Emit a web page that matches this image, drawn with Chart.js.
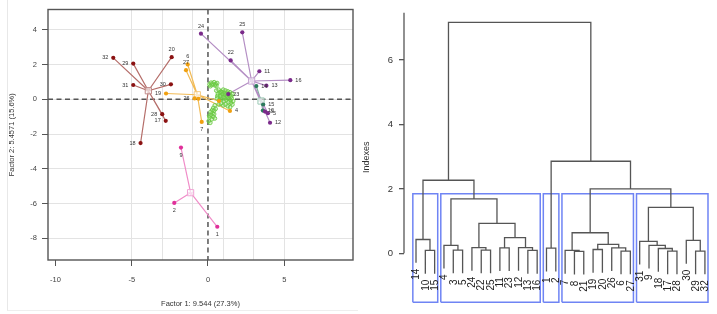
<!DOCTYPE html>
<html><head><meta charset="utf-8">
<script src="https://cdn.jsdelivr.net/npm/chart.js@4.4.1/dist/chart.umd.min.js"></script>
<style>
html,body{margin:0;padding:0;background:#fff;}
#wrap{position:relative;width:717px;height:314px;overflow:hidden;background:#fff;}
#frame{position:absolute;left:7px;top:0;width:350px;height:310px;border-left:1px solid #e8e8e8;border-bottom:1px solid #eeeeee;}
#c1{position:absolute;left:0;top:0;}
#c2{position:absolute;left:360px;top:0;}
</style></head><body>
<div id="wrap"><div id="frame"></div>
<canvas id="c1" width="360" height="314"></canvas>
<canvas id="c2" width="357" height="314"></canvas>
</div>
<script>
// ---------------- factor map data ----------------
const xTicks = [-10, -5, 0, 5];
const yTicks = [-8, -6, -4, -2, 0, 2, 4];
const xGridValues = [-5, -3, -1, 1, 3, 5];

const brownIds = ['32','29','20','31','30','28','17','18'];
const brownX = [-6.21, -4.90, -2.38, -4.90, -2.43, -3.00, -2.77, -4.42];
const brownY = [2.38, 2.05, 2.42, 0.82, 0.86, -0.86, -1.24, -2.52];
const brownCenter = [-3.91, 0.49];

const orangeIds = ['6','27','19','26','8','7','4','21'];
const orangeX = [-1.33, -1.44, -2.75, -0.88, -0.62, -0.41, 1.44, 0.72];
const orangeY = [2.00, 1.67, 0.33, 0.05, 0.03, -1.30, -0.67, -0.10];
const orangeCenter = [-0.70, 0.26];

const purpleIds = ['24','25','22','11','16','13','23','3','5','12'];
const purpleX = [-0.46, 2.25, 1.49, 3.37, 5.40, 3.83, 1.33, 3.74, 3.93, 4.07];
const purpleY = [3.77, 3.85, 2.23, 1.61, 1.10, 0.78, 0.30, -0.71, -0.80, -1.35];
const purpleCenter = [2.86, 1.05];

const tealIds = ['14','15','10'];
const tealX = [3.17, 3.62, 3.60];
const tealY = [0.76, -0.30, -0.65];
const tealCenter = [3.48, -0.10];

const pinkIds = ['9','2','1'];
const pinkX = [-1.77, -2.21, 0.61];
const pinkY = [-2.78, -5.96, -7.33];
const pinkCenter = [-1.14, -5.37];

const greenX = [0.10,0.20,0.30,0.40,0.50,0.60,0.15,0.45,0.25,0.55,
  0.55,0.70,0.85,1.00,1.15,1.30,1.45,1.60,0.65,0.80,0.95,1.10,1.25,1.40,1.55,0.60,0.75,0.90,1.05,1.20,1.35,1.50,1.65,0.85,1.00,1.15,1.30,1.45,0.70,
  0.78,0.92,1.08,1.22,1.38,1.52,0.88,1.02,1.18,1.32,1.48,0.62,1.60,
  0.45,0.35,0.40,0.30,0.20,0.35,0.10,0.25,0.05,0.15,0.40,0.50,0.28,0.18,0.45,0.08];
const greenY = [0.85,0.95,0.90,0.98,0.88,0.93,0.75,0.80,0.82,0.78,
  0.50,0.55,0.45,0.55,0.50,0.45,0.40,0.30,0.30,0.20,0.30,0.25,0.15,0.20,0.05,0.05,-0.05,0.00,-0.10,-0.05,-0.15,-0.20,-0.10,-0.25,-0.35,-0.30,-0.40,-0.45,-0.30,
  0.38,0.40,0.35,0.32,0.30,0.18,0.10,0.12,0.08,0.05,-0.05,0.18,-0.30,
  -0.35,-0.50,-0.65,-0.80,-0.90,-1.00,-1.05,-1.15,-1.25,-1.35,-0.85,-0.55,-0.62,-0.72,-1.10,-0.95];

// label placement codes (l/r/t/b/n)
const brownSides = ['l','l','t','l','l','l','l','l'];
const orangeSides = ['t','t','l','l','n','b','r','n'];
const purpleSides = ['t','t','t','r','r','r','r','r','r','r'];
const tealSides = ['r','r','r'];
const pinkSides = ['b','b','b'];

// ---------------- dendrogram data ----------------
const leafOrder = [14,10,15,4,3,5,24,22,25,11,23,12,13,16,1,2,7,8,21,19,20,26,6,27,31,9,18,17,28,30,29,32];
const mergeA = [-10,-14,-3,-4,-22,-24,-11,-13,-12,7,6,4,2,-1,-8,-7,-19,-6,-26,17,16,-17,-18,-9,-31,-29,-30,25,21,14,13];
const mergeB = [-15,1,-5,3,-25,5,-23,-16,8,9,10,11,12,-2,-21,15,-20,-27,18,19,20,-28,22,23,24,-32,26,27,28,29,30];
const mergeH = [0.09,0.43,0.10,0.25,0.10,0.18,0.17,0.09,0.18,0.49,0.93,1.69,2.27,0.16,0.06,0.09,0.12,0.07,0.17,0.28,0.64,0.07,0.15,0.25,0.37,0.07,0.40,1.43,2.00,2.86,7.17];
const clusterSizes = [3, 11, 2, 8, 8];
const cutHeight = 1.85;
const dendroTicks = [0, 2, 4, 6];

const FONT = "'Liberation Sans', Arial, Helvetica, sans-serif";

// ---------------- factor map chart ----------------
function clusterSets(name, ids, xs, ys, sides, center, pointColor, lineColor, boxColor) {
  const star = [];
  xs.forEach((x, i) => { star.push({x: center[0], y: center[1]}, {x: x, y: ys[i]}, {x: x, y: null}); });
  return [
    {label: name + ' links', data: star, showLine: true, spanGaps: false, borderColor: lineColor, borderWidth: 1.2, pointRadius: 0, order: 5},
    {label: name, data: xs.map((x, i) => ({x: x, y: ys[i]})), backgroundColor: pointColor, borderColor: pointColor, pointRadius: 2.1, borderWidth: 0, order: 1, pointIds: ids, pointSides: sides},
    {label: name + ' centre', data: [{x: center[0], y: center[1]}], pointStyle: 'rect', pointRadius: 4.4, backgroundColor: 'rgba(255,255,255,0.6)', borderColor: boxColor, borderWidth: 1, order: 2},
    {label: name + ' centre+', data: [{x: center[0], y: center[1]}], pointStyle: 'cross', pointRadius: 3, borderColor: boxColor, borderWidth: 1, order: 2}
  ];
}

const datasets1 = [
  {label: 'cloud', data: greenX.map((x, i) => ({x: x, y: greenY[i]})), pointStyle: 'circle', pointRadius: 1.9, backgroundColor: 'rgba(120,210,80,0.25)', borderColor: '#6ccb45', borderWidth: 0.9, order: 3},
  ...clusterSets('brown', brownIds, brownX, brownY, brownSides, brownCenter, '#8b1212', '#b56e6a', '#c08a88'),
  ...clusterSets('orange', orangeIds, orangeX, orangeY, orangeSides, orangeCenter, '#f0a010', '#f2bb55', '#f3c980'),
  ...clusterSets('purple', purpleIds, purpleX, purpleY, purpleSides, purpleCenter, '#7a2a8a', '#b48ec4', '#c6a6d2'),
  ...clusterSets('teal', tealIds, tealX, tealY, tealSides, tealCenter, '#2b7a5c', '#7fb59e', '#9cc9b5'),
  ...clusterSets('pink', pinkIds, pinkX, pinkY, pinkSides, pinkCenter, '#e0309a', '#f08cc8', '#f0a6d6')
];

const mapPlugin = {
  id: 'mapExtras',
  beforeDatasetsDraw(chart) {
    const {ctx, chartArea: a, scales: {x, y}} = chart;
    ctx.save();
    ctx.strokeStyle = '#555';
    ctx.lineWidth = 1.5;
    ctx.setLineDash([5, 3.5]);
    const x0 = x.getPixelForValue(0), y0 = y.getPixelForValue(0);
    ctx.beginPath();
    ctx.moveTo(x0, a.top); ctx.lineTo(x0, a.bottom);
    ctx.moveTo(a.left, y0); ctx.lineTo(a.right, y0);
    ctx.stroke();
    ctx.restore();
  },
  afterDatasetsDraw(chart) {
    const {ctx, chartArea: a} = chart;
    ctx.save();
    ctx.font = '5.5px ' + FONT;
    ctx.fillStyle = '#333';
    chart.data.datasets.forEach((ds, i) => {
      if (!ds.pointIds) return;
      const meta = chart.getDatasetMeta(i);
      meta.data.forEach((el, j) => {
        const s = ds.pointSides[j];
        const t = ds.pointIds[j];
        if (s === 'n') return;
        ctx.textBaseline = 'middle';
        if (s === 'l') { ctx.textAlign = 'right'; ctx.fillText(t, el.x - 5, el.y); }
        else if (s === 'r') { ctx.textAlign = 'left'; ctx.fillText(t, el.x + 5, el.y); }
        else if (s === 't') { ctx.textAlign = 'center'; ctx.fillText(t, el.x, el.y - 7.5); }
        else { ctx.textAlign = 'center'; ctx.fillText(t, el.x, el.y + 7.5); }
      });
    });
    ctx.strokeStyle = '#555';
    ctx.lineWidth = 1.4;
    ctx.setLineDash([]);
    ctx.strokeRect(a.left, a.top, a.right - a.left, a.bottom - a.top);
    ctx.restore();
  }
};

new Chart(document.getElementById('c1'), {
  type: 'scatter',
  data: {datasets: datasets1},
  options: {
    responsive: false, animation: false,
    layout: {padding: {top: 8, right: 7, left: 0, bottom: 0}},
    plugins: {legend: {display: false}, tooltip: {enabled: false}},
    scales: {
      x: {
        type: 'linear', position: 'bottom', min: -10.49, max: 9.51,
        afterBuildTicks: s => { s.ticks = xTicks.map(v => ({value: v})); },
        afterFit: s => { s.height = 54; },
        grid: {drawOnChartArea: false, tickColor: '#555', tickLength: 6, lineWidth: 1},
        border: {display: false},
        ticks: {font: {family: FONT, size: 7.5}, color: '#444', padding: 9, maxRotation: 0},
        title: {display: true, text: 'Factor 1: 9.544 (27.3%)', font: {family: FONT, size: 7.5}, color: '#333', padding: {top: 0, bottom: 5.5}}
      },
      x2: {
        type: 'linear', position: 'top', min: -10.49, max: 9.51,
        afterBuildTicks: s => { s.ticks = xGridValues.map(v => ({value: v})); },
        afterFit: s => { s.height = 0; },
        grid: {color: '#e3e3e3', lineWidth: 1, drawTicks: false},
        border: {display: false},
        ticks: {display: false}
      },
      y: {
        type: 'linear', position: 'left', min: -9.24, max: 5.16,
        afterBuildTicks: s => { s.ticks = yTicks.map(v => ({value: v})); },
        afterFit: s => { s.width = 48; },
        grid: {color: '#e3e3e3', lineWidth: 1, tickColor: '#555', tickLength: 6},
        border: {display: false},
        ticks: {font: {family: FONT, size: 7.5}, color: '#444', padding: 5},
        title: {display: true, text: 'Factor 2: 5.4571 (15.6%)', font: {family: FONT, size: 7.5}, color: '#333', padding: {top: 7.5, bottom: 0}}
      }
    }
  },
  plugins: [mapPlugin]
});

// ---------------- dendrogram chart ----------------
const HANG = 0.72;
const leafPos = {};
leafOrder.forEach((lab, i) => { leafPos[lab] = i + 1; });
const nodeX = [];
const parentH = {};
mergeA.forEach((a, k) => {
  [a, mergeB[k]].forEach(c => { if (c < 0) parentH[-c] = mergeH[k]; });
});
function xOf(c) { return c < 0 ? leafPos[-c] : nodeX[c - 1]; }
function topOf(c, h) { return c < 0 ? h - HANG : mergeH[c - 1]; }
const dendroData = [];
mergeA.forEach((a, k) => {
  const b = mergeB[k], h = mergeH[k];
  const xa = xOf(a), xb = xOf(b);
  nodeX[k] = (xa + xb) / 2;
  dendroData.push({x: xa, y: topOf(a, h)}, {x: xa, y: h}, {x: xb, y: h}, {x: xb, y: topOf(b, h)}, {x: xb, y: null});
});
const Y2MIN = -1.52, Y2MAX = 7.495;
const boxData = [];
let start = 1;
clusterSizes.forEach(n => {
  const l = start - 0.34, r = start + n - 1 + 0.33;
  boxData.push({x: l, y: Y2MIN}, {x: l, y: cutHeight}, {x: r, y: cutHeight}, {x: r, y: Y2MIN}, {x: l, y: Y2MIN}, {x: l, y: null});
  start += n;
});

const dendroPlugin = {
  id: 'dendroExtras',
  afterDatasetsDraw(chart) {
    const {ctx, chartArea: a, scales: {x, y}} = chart;
    ctx.save();
    ctx.strokeStyle = '#555';
    ctx.lineWidth = 1.3;
    ctx.beginPath();
    ctx.moveTo(a.left, y.getPixelForValue(0));
    ctx.lineTo(a.left, a.top + 0.7);
    ctx.stroke();
    ctx.font = '10px ' + FONT;
    ctx.fillStyle = '#222';
    ctx.textAlign = 'right';
    ctx.textBaseline = 'middle';
    leafOrder.forEach((lab, i) => {
      const px = x.getPixelForValue(i + 1);
      const py = y.getPixelForValue(parentH[lab] - HANG) + 6;
      ctx.save();
      ctx.translate(px, py);
      ctx.rotate(-Math.PI / 2);
      ctx.fillText(String(lab), 0, 0.5);
      ctx.restore();
    });
    ctx.restore();
  }
};

new Chart(document.getElementById('c2'), {
  type: 'scatter',
  data: {datasets: [
    {label: 'boxes', data: boxData, showLine: true, spanGaps: false, borderColor: '#6f84f4', borderWidth: 1.5, pointRadius: 0, clip: false, order: 2},
    {label: 'tree', data: dendroData, showLine: true, spanGaps: false, borderColor: '#555', borderWidth: 1.3, pointRadius: 0, clip: false, order: 1}
  ]},
  options: {
    responsive: false, animation: false,
    layout: {padding: {top: 12, bottom: 9, left: 0, right: 0}},
    plugins: {legend: {display: false}, tooltip: {enabled: false}},
    scales: {
      x: {type: 'linear', display: false, min: -0.288, max: 33.296},
      y: {
        type: 'linear', position: 'left', min: Y2MIN, max: Y2MAX,
        afterBuildTicks: s => { s.ticks = dendroTicks.map(v => ({value: v})); },
        afterFit: s => { s.width = 44; },
        grid: {drawOnChartArea: false, tickColor: '#555', tickLength: 5, lineWidth: 1.3},
        border: {display: false},
        ticks: {font: {family: FONT, size: 9.5}, color: '#333', padding: 6},
        title: {display: true, text: 'Indexes', font: {family: FONT, size: 9}, color: '#333', padding: {top: 1.3, bottom: 0}}
      }
    }
  },
  plugins: [dendroPlugin]
});
</script>
</body></html>
